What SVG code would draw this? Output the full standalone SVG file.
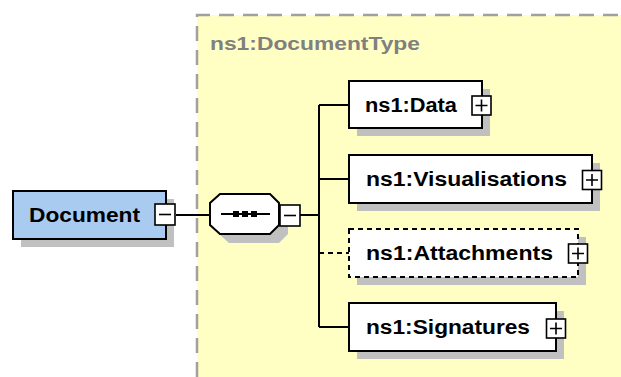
<svg xmlns="http://www.w3.org/2000/svg" width="621" height="377" viewBox="0 0 621 377">
<style>
.lbl{font-family:"Liberation Sans",Arial,sans-serif;font-weight:bold;font-size:20px;fill:#000}
.ttl{font-family:"Liberation Sans",Arial,sans-serif;font-weight:bold;font-size:19px;fill:#808080}
.box{fill:#fff;stroke:#000;stroke-width:2}
.shadow{fill:#c0c0c0;stroke:none}
.btn{fill:#fff;stroke:#000;stroke-width:1.6}
.sign{stroke:#000;stroke-width:1.6;fill:none}
.conn{stroke:#000;stroke-width:2;fill:none}
</style>
<rect width="621" height="377" fill="#fff"/>
<g id="type-region">
<rect x="197" y="15" width="430" height="370" fill="#ffffc4"/>
<path d="M197 377 V15 H621" fill="none" stroke="#a0a0a0" stroke-width="2.5" stroke-dasharray="15 9"/>
<text class="ttl" x="210" y="50" textLength="210" lengthAdjust="spacingAndGlyphs">ns1:DocumentType</text>
</g>
<g id="connectors">
<line class="conn" x1="176" y1="215" x2="210" y2="215"/>
<line class="conn" x1="300" y1="215" x2="319" y2="215"/>
<line class="conn" x1="319" y1="105" x2="319" y2="327"/>
<line class="conn" x1="319" y1="105" x2="349" y2="105"/>
<line class="conn" x1="319" y1="179" x2="349" y2="179"/>
<line class="conn" x1="319" y1="253" x2="349" y2="253" stroke-dasharray="5 4"/>
<line class="conn" x1="319" y1="327" x2="349" y2="327"/>
</g>
<g id="document">
<rect class="shadow" x="21" y="199" width="153" height="48"/>
<rect x="13" y="191" width="153" height="48" fill="#a9cbf0" stroke="#000" stroke-width="2"/>
<text class="lbl" x="29" y="222" textLength="111" lengthAdjust="spacingAndGlyphs">Document</text>
<rect class="btn" x="155" y="204" width="20" height="21"/>
<line class="sign" x1="159" y1="214.5" x2="171" y2="214.5"/>
</g>
<g id="sequence">
<polygon class="shadow" points="229,203 279,203 288,212 288,234 279,243 229,243 219,234 219,212"/>
<polygon points="220,194 270,194 279,203 279,225 270,234 220,234 210,225 210,203" fill="#fff" stroke="#000" stroke-width="2"/>
<line x1="221" y1="214" x2="270" y2="214" stroke="#000" stroke-width="2"/>
<rect x="233" y="211" width="6" height="6" fill="#000"/>
<rect x="242" y="211" width="6" height="6" fill="#000"/>
<rect x="251" y="211" width="6" height="6" fill="#000"/>
<rect class="btn" x="280" y="205" width="20" height="21"/>
<line class="sign" x1="284" y1="215.5" x2="296" y2="215.5"/>
</g>
<g id="data">
<rect class="shadow" x="357" y="89" width="133" height="47"/>
<rect class="box" x="349" y="81" width="133" height="47"/>
<text class="lbl" x="365" y="112" textLength="92" lengthAdjust="spacingAndGlyphs">ns1:Data</text>
<rect class="btn" x="472" y="96" width="19" height="19"/>
<path class="sign" d="M475.5 105.5 H487.5 M481.5 99.5 V111.5"/>
</g>
<g id="visualisations">
<rect class="shadow" x="357" y="163" width="243" height="48"/>
<rect class="box" x="349" y="155" width="243" height="48"/>
<text class="lbl" x="366" y="186" textLength="201" lengthAdjust="spacingAndGlyphs">ns1:Visualisations</text>
<rect class="btn" x="582.5" y="170.5" width="19" height="19"/>
<path class="sign" d="M586 180 H598 M592 174 V186"/>
</g>
<g id="attachments">
<rect class="shadow" x="357" y="237" width="229" height="48"/>
<rect x="349" y="229" width="229" height="48" fill="#fff" stroke="#000" stroke-width="2" stroke-dasharray="5 4"/>
<text class="lbl" x="366" y="260" textLength="187" lengthAdjust="spacingAndGlyphs">ns1:Attachments</text>
<rect class="btn" x="568.5" y="244" width="19" height="19"/>
<path class="sign" d="M572 253.5 H584 M578 247.5 V259.5"/>
</g>
<g id="signatures">
<rect class="shadow" x="357" y="311" width="207" height="48"/>
<rect class="box" x="349" y="303" width="207" height="48"/>
<text class="lbl" x="366" y="334" textLength="164" lengthAdjust="spacingAndGlyphs">ns1:Signatures</text>
<rect class="btn" x="546.5" y="319" width="19" height="19"/>
<path class="sign" d="M550 328.5 H562 M556 322.5 V334.5"/>
</g>
</svg>
